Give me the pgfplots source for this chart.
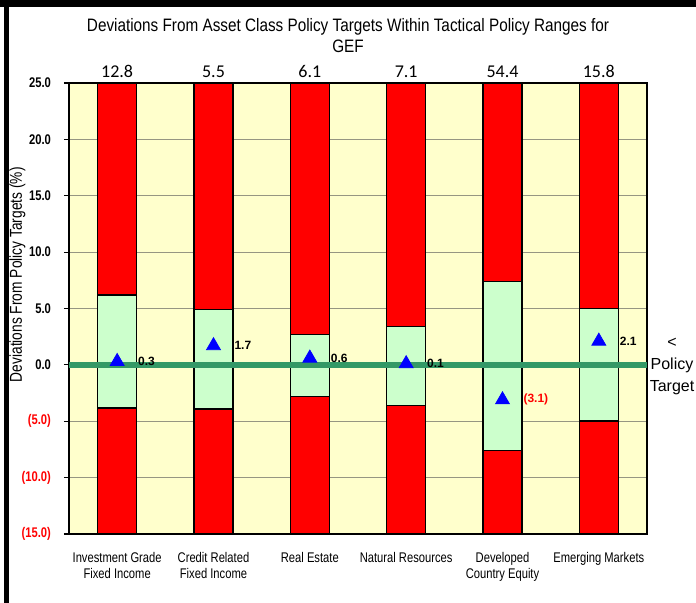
\documentclass[border=0pt]{standalone}
\usepackage{fontspec}
\setmainfont{Liberation Sans}
\newfontfamily\narrow[FakeStretch=0.8]{Liberation Sans}
\newfontfamily\titlefont[FakeStretch=0.85]{Liberation Sans}
\newfontfamily\calib{Carlito}
\usepackage{pgfplots}
\pgfplotsset{compat=1.18}
\usetikzlibrary{calc}
\definecolor{bgyellow}{RGB}{255,255,204}
\definecolor{rangegreen}{RGB}{204,255,204}
\definecolor{targetgreen}{RGB}{51,153,102}
\definecolor{gridgray}{RGB}{150,150,130}

\begin{document}
\begin{tikzpicture}
\begin{axis}[
  name=ax,
  scale only axis,
  width=289pt, height=225.5pt,
  xmin=-0.5, xmax=5.5, ymin=-15, ymax=25,
  axis background/.style={fill=bgyellow},
  axis line style={black, line width=0.8pt},
  xtick={0,...,5},
  xticklabels={{Investment Grade\\Fixed Income},{Credit Related\\Fixed Income},{Real Estate},{Natural Resources},{Developed\\Country Equity},{Emerging Markets}},
  xticklabel style={align=center, font=\narrow\fontsize{7}{8}\selectfont, yshift=-3pt},
  x tick style={draw=none},
  ytick={-15,-10,...,25},
  yticklabels={\textcolor{red}{(15.0)},\textcolor{red}{(10.0)},\textcolor{red}{(5.0)},0.0,5.0,10.0,15.0,20.0,25.0},
  yticklabel style={font=\narrow\bfseries\fontsize{7}{8}\selectfont, xshift=-3pt},
  ytick pos=left,
  tick align=outside,
  major tick length=2.5pt,
  y tick style={black, line width=0.6pt},
  ymajorgrids,
  grid style={gridgray, line width=0.6pt},
  ylabel={Deviations From Policy Targets (\%)},
  ylabel style={font=\narrow\fontsize{8.6}{10}\selectfont, at={(rel axis cs:-0.063,0.575)}, anchor=south},
  clip=false,
]
% full tactical range, upper part, with the value printed above
\addplot[ybar, bar shift=0pt, bar width=0.405, fill=red, draw=black, line width=0.8pt,
  point meta=explicit symbolic, nodes near coords,
  nodes near coords style={font=\calib\fontsize{9}{10}\selectfont, anchor=south, text=black, yshift=-1pt}]
  coordinates {(0,25)[12.8] (1,25)[5.5] (2,25)[6.1] (3,25)[7.1] (4,25)[54.4] (5,25)[15.8]};
\addplot[ybar, bar shift=0pt, bar width=0.405, fill=red, draw=black, line width=0.8pt]
  coordinates {(0,-15) (1,-15) (2,-15) (3,-15) (4,-15) (5,-15)};
% policy ranges
\addplot[ybar, bar shift=0pt, bar width=0.405, fill=rangegreen, draw=black, line width=0.8pt]
  coordinates {(0,6.2) (1,4.9) (2,2.7) (3,3.4) (4,7.4) (5,5.0)};
\addplot[ybar, bar shift=0pt, bar width=0.405, fill=rangegreen, draw=black, line width=0.8pt]
  coordinates {(0,-3.8) (1,-3.9) (2,-2.8) (3,-3.6) (4,-7.6) (5,-5.0)};
% policy target line
\addplot[targetgreen, line width=3pt] coordinates {(-0.5,0) (5.5,0)};
% current deviations
\addplot[only marks, mark=triangle*, mark size=4pt, blue,
  point meta=explicit symbolic, nodes near coords,
  nodes near coords style={anchor=west, xshift=7pt, text=black, font=\bfseries\fontsize{6}{7}\selectfont}]
  coordinates {(0,0.3)[0.3] (1,1.7)[1.7] (2,0.6)[0.6] (3,0.1)[0.1] (5,2.1)[2.1]};
\addplot[only marks, mark=triangle*, mark size=4pt, blue,
  point meta=explicit symbolic, nodes near coords,
  nodes near coords style={anchor=west, xshift=7pt, text=red, font=\bfseries\fontsize{6}{7}\selectfont}]
  coordinates {(4,-3.1)[(3.1)]};
\node[align=center, font=\fontsize{8}{11}\selectfont] at (axis cs:5.5,-0.1) [xshift=12.5pt] {<\\Policy\\Target};
\end{axis}
\node[align=center, font=\titlefont\fontsize{9}{10.5}\selectfont] at ($(ax.north)+(-5pt,23.75pt)$)
  {Deviations From Asset Class Policy Targets Within Tactical Policy Ranges for\\GEF};
\pgfresetboundingbox
\coordinate (BL) at ($(ax.south west)+(-34.5pt,-34.5pt)$);
\coordinate (TR) at ($(ax.north east)+(24.5pt,41.5pt)$);
\path[use as bounding box] (BL) rectangle (TR);
\fill[black] (BL|-TR) rectangle ($(TR)+(0,-3.5pt)$);
\fill[black] ($(BL)+(2pt,0)$) rectangle ($(BL|-TR)+(4.5pt,0)$);
\end{tikzpicture}
\end{document}
